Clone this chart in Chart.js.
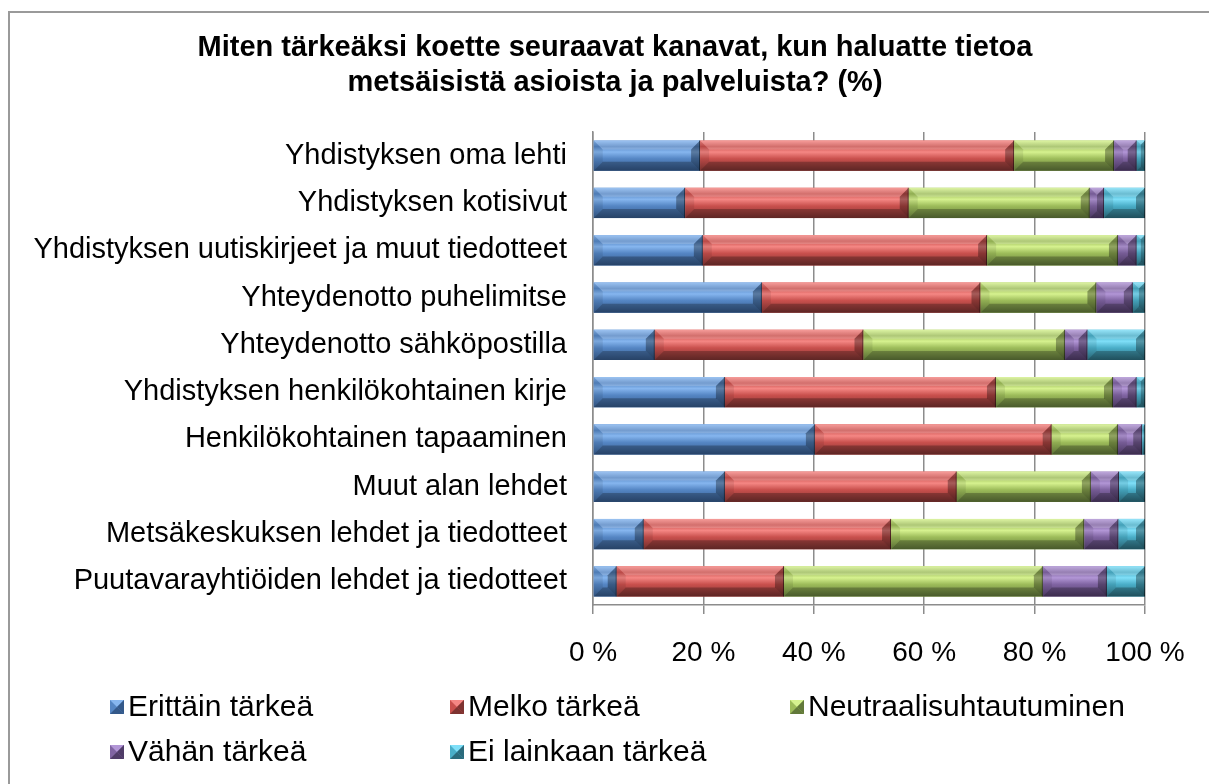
<!DOCTYPE html>
<html>
<head>
<meta charset="utf-8">
<script src="https://cdn.jsdelivr.net/npm/chart.js@4"></script>
<style>
  html, body { margin: 0; padding: 0; background: #fff; }
  #wrap { width: 1209px; height: 784px; }
</style>
</head>
<body>
<div id="wrap"><canvas id="kanavat" width="1209" height="784"></canvas></div>
<script>
var categories = [
    'Yhdistyksen oma lehti',
    'Yhdistyksen kotisivut',
    'Yhdistyksen uutiskirjeet ja muut tiedotteet',
    'Yhteydenotto puhelimitse',
    'Yhteydenotto sähköpostilla',
    'Yhdistyksen henkilökohtainen kirje',
    'Henkilökohtainen tapaaminen',
    'Muut alan lehdet',
    'Metsäkeskuksen lehdet ja tiedotteet',
    'Puutavarayhtiöiden lehdet ja tiedotteet'
];
var seriesNames = ['Erittäin tärkeä', 'Melko tärkeä', 'Neutraalisuhtautuminen', 'Vähän tärkeä', 'Ei lainkaan tärkeä'];
var erittain  = [19.4, 16.7, 19.9, 30.6, 11.2, 23.9, 40.2, 23.9,  9.2,  4.3];
var melko     = [56.9, 40.5, 51.5, 39.6, 37.8, 49.1, 42.9, 42.0, 44.8, 30.3];
var neutraali = [18.1, 32.8, 23.7, 21.0, 36.5, 21.2, 12.0, 24.3, 35.0, 46.9];
var vahan     = [ 4.1,  2.6,  3.4,  6.6,  4.1,  4.3,  4.4,  5.1,  6.2, 11.6];
var eiLainkaan= [ 1.5,  7.4,  1.5,  2.2, 10.4,  1.5,  0.5,  4.7,  4.8,  6.9];
var xTicks = [0, 20, 40, 60, 80, 100];
var titleLines = ['Miten tärkeäksi koette seuraavat kanavat, kun haluatte tietoa', 'metsäisistä asioista ja palveluista? (%)'];

// base, light, dark
var colors = [
    ['#5586c4', '#86b6ef', '#34598a'],
    ['#c9504d', '#f58784', '#7e3331'],
    ['#9dbc5a', '#d6f28f', '#62793a'],
    ['#8064a2', '#b296d6', '#503c68'],
    ['#4aaec8', '#7fdff8', '#2b6b7c']
];

var FONT = '"Liberation Sans", Arial, sans-serif';

function bevelRect(ctx, x0, y0, x1, y1, c, d) {
    var w = x1 - x0, h = y1 - y0;
    if (w <= 0) return;
    d = Math.min(d, w / 2, h / 2);
    var g = ctx.createLinearGradient(0, y0, 0, y1);
    g.addColorStop(0, c[1]);
    g.addColorStop(0.2, c[0]);
    g.addColorStop(0.38, c[1]);
    g.addColorStop(0.6, c[0]);
    g.addColorStop(1, c[2]);
    ctx.fillStyle = g;
    ctx.fillRect(x0, y0, w, h);
    // top rim
    ctx.fillStyle = 'rgba(255,255,255,0.18)';
    ctx.beginPath();
    ctx.moveTo(x0, y0); ctx.lineTo(x1, y0); ctx.lineTo(x1 - d, y0 + d); ctx.lineTo(x0 + d, y0 + d);
    ctx.closePath(); ctx.fill();
    // bottom rim
    ctx.fillStyle = 'rgba(0,0,0,0.25)';
    ctx.beginPath();
    ctx.moveTo(x0, y1); ctx.lineTo(x1, y1); ctx.lineTo(x1 - d, y1 - d); ctx.lineTo(x0 + d, y1 - d);
    ctx.closePath(); ctx.fill();
    // left end
    ctx.fillStyle = 'rgba(0,0,0,0.08)';
    ctx.beginPath();
    ctx.moveTo(x0, y0); ctx.lineTo(x0 + d, y0 + d); ctx.lineTo(x0 + d, y1 - d); ctx.lineTo(x0, y1);
    ctx.closePath(); ctx.fill();
    // right end
    ctx.fillStyle = 'rgba(0,0,0,0.32)';
    ctx.beginPath();
    ctx.moveTo(x1, y0); ctx.lineTo(x1 - d, y0 + d); ctx.lineTo(x1 - d, y1 - d); ctx.lineTo(x1, y1);
    ctx.closePath(); ctx.fill();
    ctx.strokeStyle = 'rgba(0,0,0,0.5)';
    ctx.lineWidth = 1;
    ctx.beginPath();
    ctx.moveTo(x1 - 0.5, y0); ctx.lineTo(x1 - 0.5, y1);
    ctx.stroke();
}

var bevelPlugin = {
    id: 'bevel',
    afterDatasetsDraw: function (chart) {
        var ctx = chart.ctx;
        ctx.save();
        chart.data.datasets.forEach(function (ds, i) {
            var meta = chart.getDatasetMeta(i);
            meta.data.forEach(function (bar) {
                var p = bar.getProps(['x', 'y', 'base', 'height'], true);
                var x0 = Math.min(p.x, p.base), x1 = Math.max(p.x, p.base);
                bevelRect(ctx, x0, p.y - p.height / 2, x1, p.y + p.height / 2, colors[i], 9);
            });
        });
        ctx.restore();
    },
    afterDraw: function (chart) {
        var ctx = chart.ctx;
        ctx.save();
        // frame
        ctx.strokeStyle = '#9a9a9a';
        ctx.lineWidth = 2;
        ctx.strokeRect(9, 12, 1400, 900);
        // title
        ctx.fillStyle = '#000';
        ctx.font = 'bold 29px ' + FONT;
        ctx.textAlign = 'center';
        ctx.textBaseline = 'middle';
        titleLines.forEach(function (t, k) {
            ctx.fillText(t, 615, 48 + k * 35);
        });
        // legend
        var cols = [110, 450, 790], rows = [707, 752];
        ctx.font = '30px ' + FONT;
        ctx.textAlign = 'left';
        chart.data.datasets.forEach(function (ds, i) {
            var cx = cols[i % 3], cy = rows[Math.floor(i / 3)];
            var c = colors[i];
            var s = 14, x0 = cx, y0 = cy - 7;
            ctx.fillStyle = c[0];
            ctx.fillRect(x0, y0, s, s);
            ctx.fillStyle = c[1];
            ctx.beginPath(); ctx.moveTo(x0, y0); ctx.lineTo(x0 + s, y0); ctx.lineTo(x0 + s / 2, y0 + s / 2); ctx.closePath(); ctx.fill();
            ctx.fillStyle = c[2];
            ctx.beginPath(); ctx.moveTo(x0 + s, y0); ctx.lineTo(x0 + s, y0 + s); ctx.lineTo(x0 + s / 2, y0 + s / 2); ctx.closePath(); ctx.fill();
            ctx.beginPath(); ctx.moveTo(x0, y0 + s); ctx.lineTo(x0 + s, y0 + s); ctx.lineTo(x0 + s / 2, y0 + s / 2); ctx.closePath(); ctx.fill();
            ctx.fillStyle = '#000';
            ctx.fillText(ds.label, cx + 18, cy + 1);
        });
        ctx.restore();
    }
};

var allSeries = [erittain, melko, neutraali, vahan, eiLainkaan];
var datasets = allSeries.map(function (vals, i) {
    return {
        label: seriesNames[i],
        data: vals,
        backgroundColor: colors[i][0],
        borderWidth: 0,
        barPercentage: 0.8,
        categoryPercentage: 0.8
    };
});

var ctx = document.getElementById('kanavat').getContext('2d');
var myChart = new Chart(ctx, {
    type: 'bar',
    data: { labels: categories, datasets: datasets },
    options: {
        indexAxis: 'y',
        responsive: false,
        animation: false,
        layout: { padding: { top: 132, right: 64, bottom: 109, left: 0 } },
        plugins: {
            legend: { display: false },
            title: { display: false },
            tooltip: { enabled: false }
        },
        scales: {
            x: {
                stacked: true,
                min: 0,
                max: 100,
                afterBuildTicks: function (scale) {
                    scale.ticks = xTicks.map(function (v) { return { value: v }; });
                },
                afterFit: function (scale) { scale.height = 70; },
                ticks: {
                    color: '#000',
                    font: { family: FONT, size: 28 },
                    padding: 22,
                    maxRotation: 0,
                    callback: function (v) { return v + ' %'; }
                },
                grid: { color: '#8c8c8c', lineWidth: 1.5, tickLength: 9 },
                border: { color: '#8c8c8c', width: 1.5 }
            },
            y: {
                stacked: true,
                afterFit: function (scale) { scale.width = 593; },
                ticks: {
                    color: '#000',
                    font: { family: FONT, size: 29 },
                    padding: 26
                },
                grid: { display: false, drawTicks: false },
                border: { display: true, color: '#8c8c8c', width: 1.5 }
            }
        }
    },
    plugins: [bevelPlugin]
});
</script>
</body>
</html>
